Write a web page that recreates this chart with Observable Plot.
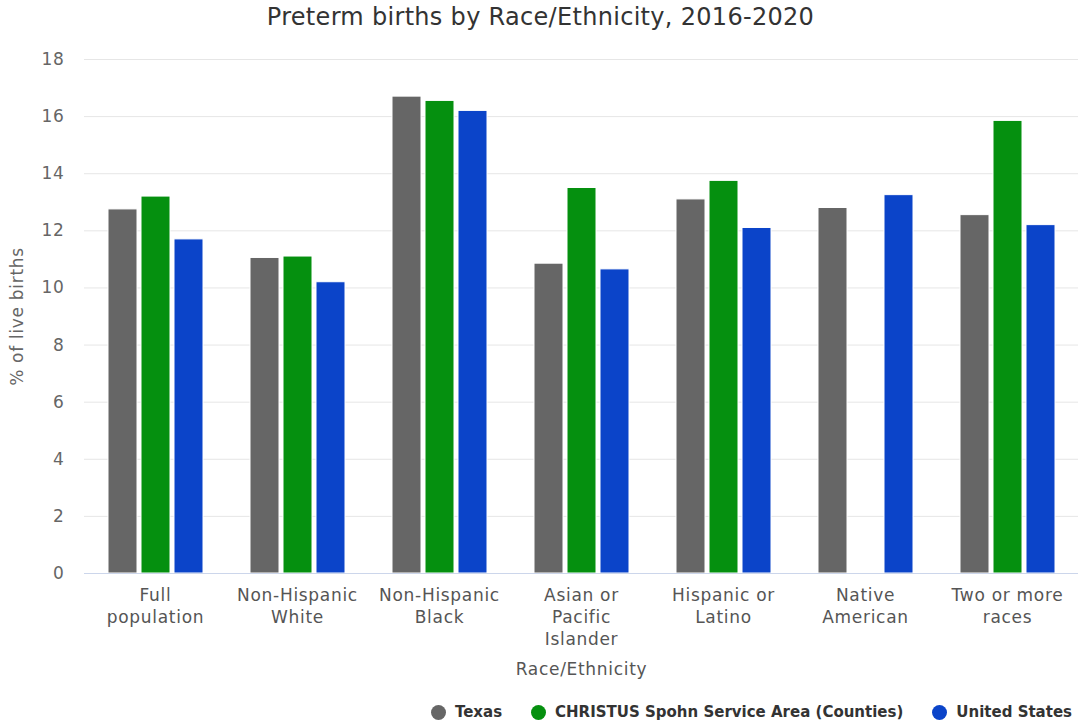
<!DOCTYPE html>
<html>
<head>
<meta charset="utf-8">
<script src="https://cdn.jsdelivr.net/npm/d3@7"></script>
<script src="https://cdn.jsdelivr.net/npm/@observablehq/plot@0.6"></script>
<style>
  html, body { margin: 0; padding: 0; background: #fff; }
  body { width: 1081px; height: 727px; overflow: hidden; font-family: "DejaVu Sans", sans-serif; }
  #title { height: 40px; line-height: 34px; text-align: center; font-size: 24px; letter-spacing: 0.3px; color: #333; }
  #chart svg { display: block; }
  #legend { height: 30px; padding-top: 12px; display: flex; justify-content: flex-end; align-items: center; padding-right: 9px; font-weight: bold; font-size: 15px; color: #333; }
  .item { display: flex; align-items: center; margin-left: 29px; }
  .dot { width: 15px; height: 15px; border-radius: 50%; margin-right: 9px; }
</style>
</head>
<body>
<div id="title">Preterm births by Race/Ethnicity, 2016-2020</div>
<div id="chart"></div>
<div id="legend"></div>
<script>
const categories = ["Full population", "Non-Hispanic White", "Non-Hispanic Black", "Asian or Pacific Islander", "Hispanic or Latino", "Native American", "Two or more races"];
const categoryLabels = ["Full\npopulation", "Non-Hispanic\nWhite", "Non-Hispanic\nBlack", "Asian or\nPacific\nIslander", "Hispanic or\nLatino", "Native\nAmerican", "Two or more\nraces"];
const seriesNames = ["Texas", "CHRISTUS Spohn Service Area (Counties)", "United States"];
const seriesColors = ["#666666", "#05900f", "#0b44c9"];
const texas = [12.75, 11.05, 16.7, 10.85, 13.1, 12.8, 12.55];
const christus = [13.2, 11.1, 16.55, 13.5, 13.75, null, 15.85];
const unitedStates = [11.7, 10.2, 16.2, 10.65, 12.1, 13.25, 12.2];
const yTicks = [0, 2, 4, 6, 8, 10, 12, 14, 16, 18];

const seriesValues = [texas, christus, unitedStates];
const data = [];
categories.forEach((c, i) => {
  seriesNames.forEach((s, j) => {
    const v = seriesValues[j][i];
    if (v != null) data.push({category: c, series: s, value: v});
  });
});

const chart = Plot.plot({
  width: 1081,
  height: 645,
  marginTop: 19,
  marginBottom: 112,
  marginLeft: 82,
  marginRight: 1,
  style: {fontFamily: "'DejaVu Sans', sans-serif", fontSize: "17px", letterSpacing: "0.7px", color: "#666", background: "#fff"},
  fx: {domain: categories, padding: 0},
  x: {domain: seriesNames, paddingInner: 0.13, paddingOuter: 0.66, axis: null},
  y: {domain: [0, 18]},
  color: {domain: seriesNames, range: seriesColors},
  marks: [
    Plot.gridY(yTicks, {stroke: "#e6e6e6", strokeOpacity: 1, strokeWidth: 1}),
    Plot.axisY(yTicks, {tickSize: 0, tickPadding: 20, fill: "#666", fontSize: 17,
      label: "% of live births", labelAnchor: "center", labelArrow: "none", labelOffset: 74}),
    Plot.axisFx({anchor: "bottom", tickSize: 0, tickPadding: 12, fill: "#555", fontSize: 17, lineHeight: 1.3,
      tickFormat: d => categoryLabels[categories.indexOf(d)],
      label: "Race/Ethnicity", labelAnchor: "center", labelArrow: "none", labelOffset: 101}),
    Plot.barY(data, {fx: "category", x: "series", y: "value", fill: "series", stroke: "#ffffff", strokeWidth: 1}),
    Plot.ruleY([0], {stroke: "#ccd6eb", strokeWidth: 1})
  ]
});
document.getElementById("chart").appendChild(chart);

const legend = document.getElementById("legend");
seriesNames.forEach((s, i) => {
  const item = document.createElement("div");
  item.className = "item";
  const dot = document.createElement("span");
  dot.className = "dot";
  dot.style.background = seriesColors[i];
  const label = document.createElement("span");
  label.textContent = s;
  item.appendChild(dot);
  item.appendChild(label);
  legend.appendChild(item);
});
</script>
</body>
</html>
